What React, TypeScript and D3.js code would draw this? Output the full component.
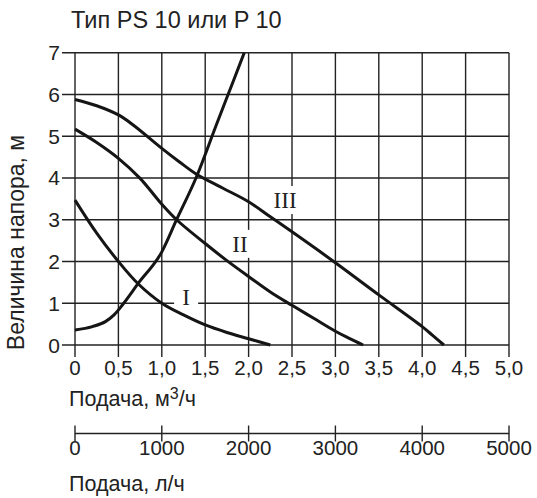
import React from "react";
import * as d3 from "d3";

const W = 537;
const H = 498;

const xTicks = [0, 0.5, 1.0, 1.5, 2.0, 2.5, 3.0, 3.5, 4.0, 4.5, 5.0];
const yTicks = [0, 1, 2, 3, 4, 5, 6, 7];
const lTicks = [0, 1000, 2000, 3000, 4000, 5000];

const curveI: [number, number][] = [
  [0, 3.47], [0.25, 2.68], [0.5, 2.0], [0.73, 1.46], [1.0, 1.0], [1.25, 0.72],
  [1.5, 0.48], [1.75, 0.3], [2.0, 0.15], [2.25, 0],
];
const curveII: [number, number][] = [
  [0, 5.17], [0.25, 4.85], [0.5, 4.47], [0.75, 3.99], [1.0, 3.37], [1.17, 3.0],
  [1.5, 2.43], [1.75, 2.02], [2.0, 1.64], [2.25, 1.27], [2.5, 0.95], [2.75, 0.64],
  [3.0, 0.33], [3.16, 0.16], [3.32, 0],
];
const curveIII: [number, number][] = [
  [0, 5.88], [0.25, 5.73], [0.5, 5.51], [0.67, 5.27], [1.0, 4.71], [1.2, 4.39],
  [1.4, 4.09], [1.7, 3.76], [2.0, 3.43], [2.25, 3.07], [2.5, 2.71], [3.0, 1.97],
  [3.5, 1.2], [4.0, 0.44], [4.12, 0.23], [4.25, 0],
];
const systemCurve: [number, number][] = [
  [0, 0.36], [0.2, 0.44], [0.35, 0.56], [0.45, 0.72], [0.55, 0.97], [0.73, 1.48],
  [1.0, 2.23], [1.17, 3.0], [1.4, 4.03], [1.63, 5.28], [1.82, 6.3], [1.95, 7.0],
];

const curveNames = ["I", "II", "III"];
const curveLabelAt: [number, number][] = [[1.28, 0.96], [1.9, 2.23], [2.42, 3.28]];

const FONT = "'Liberation Sans', Arial, sans-serif";
const SERIF = "'Liberation Serif', 'Times New Roman', serif";

export default function App() {
  const x = d3.scaleLinear().domain([0, 5]).range([75, 509]);
  const y = d3.scaleLinear().domain([0, 7]).range([345, 52.7]);
  const xl = d3.scaleLinear().domain([0, 5000]).range([75, 509]);
  const line = d3
    .line<[number, number]>()
    .x((d) => x(d[0]))
    .y((d) => y(d[1]))
    .curve(d3.curveCatmullRom.alpha(0.5));
  const sysLine = d3
    .line<[number, number]>()
    .x((d) => x(d[0]))
    .y((d) => y(d[1]))
    .curve(d3.curveMonotoneX);

  const gridColor = "#222";
  const lAxisY = 433.5;

  return (
    <svg
      width={W}
      height={H}
      style={{ position: "absolute", left: 0, top: 0, background: "#fff" }}
    >
      <text x={71} y={28} fontFamily={FONT} fontSize={23.5} fill="#222">
        Тип PS 10 или P 10
      </text>

      {/* grid */}
      <g stroke={gridColor} strokeWidth={1.4}>
        {xTicks.map((t) => (
          <line key={"vx" + t} x1={x(t)} x2={x(t)} y1={y(7)} y2={y(0) + 12} />
        ))}
        {yTicks.map((t) => (
          <line key={"hy" + t} x1={x(0) - 13} x2={x(5)} y1={y(t)} y2={y(t)} />
        ))}
      </g>

      {/* label backgrounds */}
      {curveNames.map((n, i) => {
        const cx = x(curveLabelAt[i][0]);
        const by = y(curveLabelAt[i][1]);
        const w = n.length * 8 + 16;
        return (
          <rect key={"bg" + n} x={cx - w / 2} y={by - 22} width={w} height={28} fill="#fff" />
        );
      })}

      {/* curves */}
      <g fill="none" stroke="#151515" strokeWidth={3} strokeLinecap="butt">
        <path d={line(curveI) || ""} />
        <path d={line(curveII) || ""} />
        <path d={line(curveIII) || ""} />
        <path d={sysLine(systemCurve) || ""} />
      </g>

      {curveNames.map((n, i) => (
        <text
          key={"lb" + n}
          x={x(curveLabelAt[i][0])}
          y={y(curveLabelAt[i][1])}
          textAnchor="middle"
          fontFamily={SERIF}
          fontSize={23}
          fill="#222"
        >
          {n}
        </text>
      ))}

      {/* y tick labels */}
      {yTicks.map((t) => (
        <text
          key={"yl" + t}
          x={60}
          y={y(t) + 7.5}
          textAnchor="end"
          fontFamily={FONT}
          fontSize={21}
          fill="#222"
        >
          {t}
        </text>
      ))}

      {/* x tick labels */}
      {xTicks.map((t) => (
        <text
          key={"xl" + t}
          x={x(t)}
          y={375}
          textAnchor="middle"
          fontFamily={FONT}
          fontSize={20.5}
          fill="#222"
        >
          {t === 0 ? "0" : d3.format(".1f")(t).replace(".", ",")}
        </text>
      ))}

      <text x={69} y={406} fontFamily={FONT} fontSize={21.5} fill="#222">
        Подача, м<tspan dy={-7} fontSize={16}>3</tspan>
        <tspan dy={7}>/ч</tspan>
      </text>

      {/* second axis (l/h) */}
      <g stroke={gridColor} strokeWidth={1.4}>
        <line x1={xl(0)} x2={xl(5000)} y1={lAxisY} y2={lAxisY} />
        {lTicks.map((t) => (
          <line key={"lt" + t} x1={xl(t)} x2={xl(t)} y1={lAxisY - 8} y2={lAxisY + 8} />
        ))}
      </g>
      {lTicks.map((t) => (
        <text
          key={"ll" + t}
          x={xl(t)}
          y={455}
          textAnchor="middle"
          fontFamily={FONT}
          fontSize={20.5}
          fill="#222"
        >
          {t}
        </text>
      ))}
      <text x={69} y={491} fontFamily={FONT} fontSize={21.5} fill="#222">
        Подача, л/ч
      </text>

      <text
        transform={`translate(24, 242.5) rotate(-90)`}
        textAnchor="middle"
        fontFamily={FONT}
        fontSize={23}
        fill="#222"
      >
        Величина напора, м
      </text>
    </svg>
  );
}
